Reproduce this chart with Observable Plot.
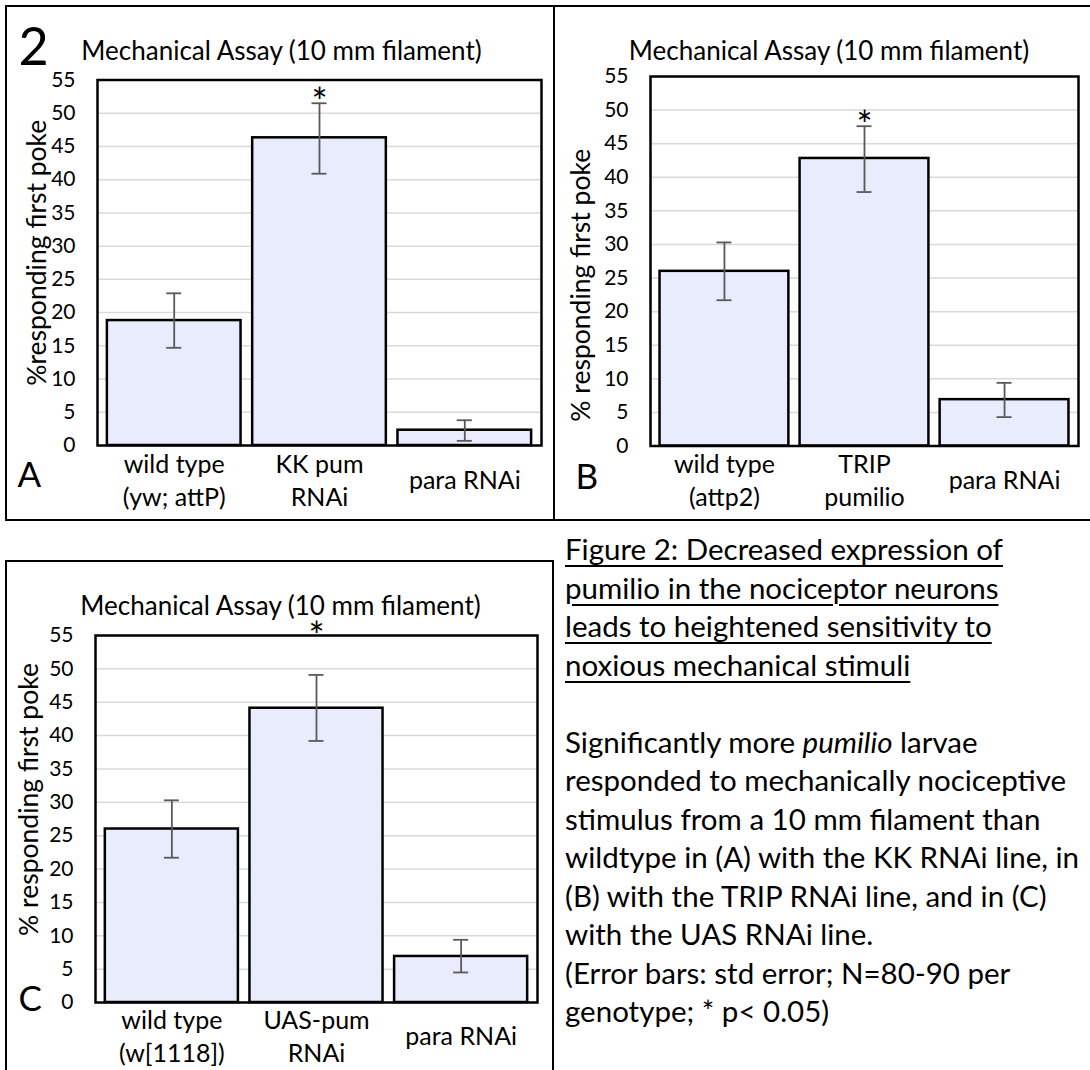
<!DOCTYPE html>
<html><head><meta charset="utf-8">
<script src="https://cdn.jsdelivr.net/npm/d3@7"></script>
<script src="https://cdn.jsdelivr.net/npm/@observablehq/plot@0.6"></script>
<style>
html,body{margin:0;padding:0;background:#fff;}
body{width:1090px;height:1070px;position:relative;overflow:hidden;font-family:Lato, sans-serif;color:#000;}
.box{position:absolute;border:2px solid #000;box-sizing:border-box;}
.plot{position:absolute;}
.plot svg{overflow:visible;display:block;}
#caption{position:absolute;left:565px;top:530px;font-size:29.5px;line-height:38.5px;white-space:nowrap;}
#caption u{text-decoration-thickness:2px;text-underline-offset:5px;}
</style></head><body>
<div class="box" style="left:5px;top:5px;width:550px;height:516px"></div>
<div class="box" style="left:553px;top:5px;width:545px;height:516px"></div>
<div class="box" style="left:5px;top:560px;width:549px;height:520px"></div>
<div id="pA" class="plot" style="left:5px;top:5px"></div>
<div id="pB" class="plot" style="left:553px;top:5px"></div>
<div id="pC" class="plot" style="left:5px;top:560px"></div>
<div id="caption"></div>
<script>
// ---- data ----
const titleText = "Mechanical Assay (10 mm filament)";
const yTicks = [0, 5, 10, 15, 20, 25, 30, 35, 40, 45, 50, 55];
const gridTicks = [5, 10, 15, 20, 25, 30, 35, 40, 45, 50];

const labelsA = ["wild type\n(yw; attP)", "KK pum\nRNAi", "para RNAi"];
const valuesA = [18.8, 46.3, 2.3];
const upperA = [22.9, 51.5, 3.8];
const lowerA = [14.7, 40.9, 0.7];
const sigA = [false, true, false];

const labelsB = ["wild type\n(attp2)", "TRIP\npumilio", "para RNAi"];
const valuesB = [26.0, 42.8, 6.9];
const upperB = [30.3, 47.6, 9.4];
const lowerB = [21.7, 37.8, 4.3];
const sigB = [false, true, false];

const labelsC = ["wild type\n(w[1118])", "UAS-pum\nRNAi", "para RNAi"];
const valuesC = [26.0, 44.1, 6.9];
const upperC = [30.3, 49.1, 9.4];
const lowerC = [21.7, 39.2, 4.5];
const sigC = [false, true, false];

const captionTitle = ["Figure 2: Decreased expression of", "pumilio in the nociceptor neurons", "leads to heightened sensitivity to", "noxious mechanical stimuli"];
const captionBody = ["Significantly more <i>pumilio</i> larvae", "responded to mechanically nociceptive", "stimulus from a 10 mm filament than", "wildtype in (A) with the KK RNAi line, in", "(B) with the TRIP RNAi line, and in (C)", "with the UAS RNAi line.", "(Error bars: std error; N=80-90 per", "genotype; * p< 0.05)"];

// ---- layout ----
const PI = 0.08, PO = 0.068, CAP = 15;
function panel(cfg) {
  const data = cfg.labels.map((label, i) => ({label, value: cfg.values[i], upper: cfg.upper[i], lower: cfg.lower[i], sig: cfg.sig[i]}));
  const innerW = cfg.width - cfg.ml - cfg.mr;
  const step = innerW / (data.length - PI + 2 * PO);
  const bw = step * (1 - PI);
  const inset = (bw - CAP) / 2;
  const err = {stroke: "#595959", strokeWidth: 1.8};
  const marks = [
    Plot.gridY({ticks: gridTicks, stroke: "#d9d9d9", strokeOpacity: 1, strokeWidth: 1.5}),
    Plot.axisY({ticks: yTicks, tickSize: 0, tickPadding: 22, label: null}),
    Plot.barY(data, {x: "label", y: "value", fill: "#e9ecfc", stroke: "#000", strokeWidth: 2.5}),
    Plot.ruleX(data, {x: "label", y1: "lower", y2: "upper", ...err}),
    Plot.tickY(data, {x: "label", y: "upper", insetLeft: inset, insetRight: inset, ...err}),
    Plot.tickY(data, {x: "label", y: "lower", insetLeft: inset, insetRight: inset, ...err}),
    Plot.text(data.filter(d => d.sig), {x: "label", y: "upper", text: () => "*", fontSize: 38, dy: cfg.starDy, lineAnchor: "middle"}),
    Plot.frame({stroke: "#000", strokeWidth: 2.5}),
    Plot.text([titleText], {text: d => d, frameAnchor: "top", textAnchor: "middle", lineAnchor: "middle", dx: cfg.titleDx, dy: cfg.titleDy, fontSize: 26}),
    Plot.text([cfg.ylabel], {text: d => d, frameAnchor: "left", textAnchor: "middle", lineAnchor: "middle", rotate: -90, dx: cfg.ylabDx, dy: cfg.ylabDy, fontSize: 26.5}),
    Plot.text(data, {x: "label", text: "label", frameAnchor: "bottom", textAnchor: "middle", lineAnchor: "middle", dy: cfg.xlabDy, fontSize: 25, lineHeight: 1.32}),
    Plot.text([cfg.letter], {text: d => d, frameAnchor: "bottom-left", textAnchor: "start", lineAnchor: "middle", dx: cfg.letterDx, dy: cfg.letterDy, fontSize: 35})
  ];
  if (cfg.figNum) marks.push(Plot.text([cfg.figNum], {text: d => d, frameAnchor: "top-left", textAnchor: "start", lineAnchor: "middle", dx: -79, dy: -32, fontSize: 52}));
  return Plot.plot({
    width: cfg.width, height: cfg.height,
    marginLeft: cfg.ml, marginRight: cfg.mr, marginTop: cfg.mt, marginBottom: cfg.mb,
    style: {fontFamily: "Lato, sans-serif", fontSize: "21px", color: "#000", background: "none", overflow: "visible"},
    x: {type: "band", domain: cfg.labels, paddingInner: PI, paddingOuter: PO, round: false, axis: null},
    y: {domain: [0, 55], axis: null},
    marks
  });
}

document.getElementById("pA").append(panel({
  labels: labelsA, values: valuesA, upper: upperA, lower: lowerA, sig: sigA,
  width: 550, height: 516, ml: 92, mr: 14, mt: 74.5, mb: 76,
  titleDx: -38, titleDy: -28.5, ylabel: "%responding first poke", ylabDx: -60, ylabDy: -10,
  xlabDy: 33, starDy: 1, letter: "A", letterDx: -80, letterDy: 30, figNum: "2"
}));
document.getElementById("pB").append(panel({
  labels: labelsB, values: valuesB, upper: upperB, lower: lowerB, sig: sigB,
  width: 537, height: 516, ml: 97, mr: 12, mt: 71, mb: 75.5,
  titleDx: -35.5, titleDy: -25, ylabel: "% responding first poke", ylabDx: -69, ylabDy: 24,
  xlabDy: 32.5, starDy: 1, letter: "B", letterDx: -75, letterDy: 31.5
}));
document.getElementById("pC").append(panel({
  labels: labelsC, values: valuesC, upper: upperC, lower: lowerC, sig: sigC,
  width: 549, height: 510, ml: 90, mr: 17, mt: 75, mb: 68,
  titleDx: -36, titleDy: -29, ylabel: "% responding first poke", ylabDx: -66, ylabDy: -19.5,
  xlabDy: 32, starDy: -37, letter: "C", letterDx: -77, letterDy: -3
}));

document.getElementById("caption").innerHTML =
  captionTitle.map(s => "<u>" + s + "</u>").join("<br>") + "<br><br>" + captionBody.join("<br>");
</script>
</body></html>
